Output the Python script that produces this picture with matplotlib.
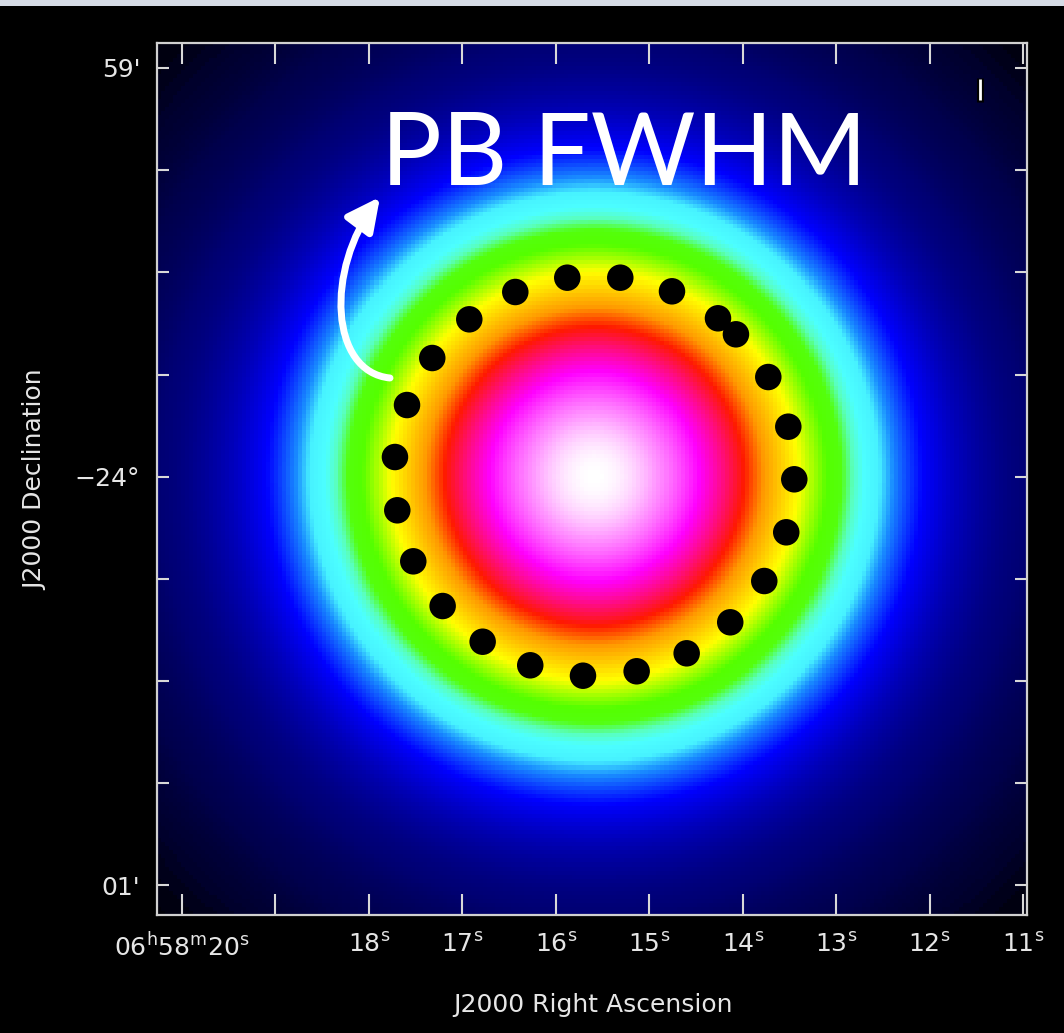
import numpy as np
import matplotlib
matplotlib.use('Agg')
import matplotlib.pyplot as plt
from matplotlib.colors import LinearSegmentedColormap
from matplotlib.patches import FancyArrowPatch, Rectangle
from matplotlib.path import Path

# ---------------- data ----------------
ra_ticks_s = [20, 19, 18, 17, 16, 15, 14, 13, 12, 11]
ra_tick_labels = [r'06$^{\mathrm{h}}$58$^{\mathrm{m}}$20$^{\mathrm{s}}$', '',
                  r'18$^{\mathrm{s}}$', r'17$^{\mathrm{s}}$', r'16$^{\mathrm{s}}$',
                  r'15$^{\mathrm{s}}$', r'14$^{\mathrm{s}}$', r'13$^{\mathrm{s}}$',
                  r'12$^{\mathrm{s}}$', r'11$^{\mathrm{s}}$']
dec_ticks_arcsec = [60, 45, 30, 15, 0, -15, -30, -45, -60]
dec_tick_labels = ["59'", '', '', '', '\u221224\u00b0', '', '', '', "01'"]

# mosaic pointings (RA seconds past 06h58m, Dec offset arcsec from -24deg)
pointing_ra_s = [15.876, 15.309, 14.756, 14.264, 14.072, 13.726, 13.512, 13.448,
                 13.534, 13.769, 14.133, 14.599, 15.134, 15.708, 16.272, 16.781,
                 17.209, 17.523, 17.694, 17.719, 17.590, 17.320, 16.924, 16.432]
pointing_dec_arcsec = [29.21, 29.21, 27.21, 23.25, 20.90, 14.63, 7.34, -0.38,
                       -8.16, -15.31, -21.37, -25.92, -28.56, -29.21, -27.68, -24.22,
                       -18.98, -12.42, -4.93, 2.89, 10.52, 17.42, 23.10, 27.11]

# primary beam model
beam_center_ra_s = 15.584
beam_center_dec_arcsec = 0.0
beam_fwhm_arcsec = 60.2
arcsec_per_ra_s = 13.72

ra_limits = (20.264, 10.959)
dec_limits = (-64.33, 63.7)

# colour table (primary-beam level -> colour)
pb_levels = [0.0, 0.0018, 0.005, 0.015, 0.042, 0.057, 0.1085, 0.166, 0.227,
             0.26, 0.30, 0.33, 0.365, 0.409, 0.5, 0.621, 0.690, 0.76, 0.834,
             0.94, 1.0]
pb_colors = [(0, 0, 0), (0, 0, 0.06), (0, 0, 0.18), (0, 0, 0.30), (0, 0, 0.45),
             (0, 0, 0.50), (0, 0, 0.72), (0, 0, 1), (0.1, 0.55, 1),
             (0.28, 0.95, 1), (0.3, 1, 1), (0.35, 1, 0.75), (0.33, 1, 0.05),
             (0.33, 1, 0), (1, 1, 0), (1, 0.6, 0), (1, 0.1, 0),
             (1, 0.05, 0.5), (1, 0, 1), (1, 0.6, 1), (1, 1, 1)]

# ---------------- figure ----------------
W, H = 1064, 1033
fig = plt.figure(figsize=(W / 100, H / 100), dpi=100, facecolor='black')
fig.patches.append(Rectangle((0, 1 - 6 / H), 1, 6 / H, transform=fig.transFigure,
                             facecolor='#d6dce6', edgecolor='none', zorder=0))

ax = fig.add_axes([157 / W, 1 - 915 / H, 870 / W, 872.3 / H])
ax.set_facecolor('black')

cmap = LinearSegmentedColormap.from_list('pb', list(zip(pb_levels, pb_colors)), N=1024)

n = 216
ra_grid = np.linspace(ra_limits[0], ra_limits[1], n)
dec_grid = np.linspace(dec_limits[0], dec_limits[1], n)
RA, DEC = np.meshgrid(ra_grid, dec_grid)
dx = (RA - beam_center_ra_s) * arcsec_per_ra_s
dy = DEC - beam_center_dec_arcsec
pb = np.exp(-4 * np.log(2) * (dx ** 2 + dy ** 2) / beam_fwhm_arcsec ** 2)
ax.imshow(pb, cmap=cmap, vmin=0, vmax=1, origin='lower', aspect='auto',
          extent=[ra_limits[0], ra_limits[1], dec_limits[0], dec_limits[1]],
          interpolation='nearest', zorder=1)

ax.scatter(pointing_ra_s, pointing_dec_arcsec, s=(26.5 * 0.72) ** 2, c='black',
           edgecolors='none', zorder=3)

ax.set_xlim(*ra_limits)
ax.set_ylim(*dec_limits)

fc = '#e6e6e6'
for sp in ax.spines.values():
    sp.set_color('#d0d0d0')
    sp.set_linewidth(1.6)
    sp.set_zorder(5)

ax.set_xticks(ra_ticks_s)
ax.set_xticklabels(ra_tick_labels)
ax.set_yticks(dec_ticks_arcsec)
ax.set_yticklabels(dec_tick_labels)
ax.tick_params(axis='x', direction='in', length=15, width=1.5, color='#d8d8d8',
               top=True, bottom=True, labelcolor=fc, labelsize=18, pad=13)
ax.tick_params(axis='y', direction='in', length=8.5, width=1.5, color='#d8d8d8',
               left=True, right=True, labelcolor=fc, labelsize=18, pad=12)
for t in ax.get_xticklines() + ax.get_yticklines():
    t.set_zorder(6)

fig.text(593 / W, 1 - 1005 / H, 'J2000 Right Ascension', color=fc, fontsize=18,
         ha='center', va='center')
fig.text(35 / W, 1 - 480 / H, 'J2000 Declination', color=fc, fontsize=18,
         ha='center', va='center', rotation=90)

# small beam marker
ax.plot([0.946, 0.946], [0.932, 0.960], transform=ax.transAxes, color='black',
        lw=5, solid_capstyle='butt', zorder=4)
ax.plot([0.946, 0.946], [0.934, 0.958], transform=ax.transAxes, color='white',
        lw=2, solid_capstyle='butt', zorder=4)

# annotation text
fig.text(381 / W, 1 - 185 / H, 'PB FWHM', color='white', fontsize=73,
         family=['Lato', 'DejaVu Sans'], ha='left', va='baseline', zorder=10)

# curved arrow
pts = [(390, 378), (330, 372), (325, 270), (380, 197)]
verts = [(x / W, 1 - y / H) for x, y in pts]
path = Path(verts, [Path.MOVETO, Path.CURVE4, Path.CURVE4, Path.CURVE4])
arrow = FancyArrowPatch(path=path, arrowstyle='-|>,head_length=1.0,head_width=0.5',
                        mutation_scale=20, color='white', lw=5,
                        transform=fig.transFigure, zorder=10)
fig.patches.append(arrow)

fig.savefig('out.png', dpi=100, facecolor='black')
